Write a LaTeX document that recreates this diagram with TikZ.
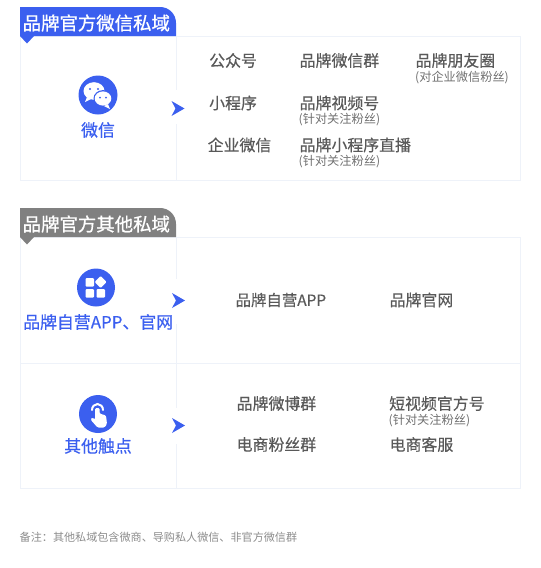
\documentclass[tikz,border=0pt]{standalone}
\usepackage{fontspec}
\setmainfont{Noto Sans CJK SC}
\newfontfamily\medf[FakeBold=0.4]{Noto Sans CJK SC}
\newfontfamily\boldf[FakeBold=0.8]{Noto Sans CJK SC}
\definecolor{brand}{HTML}{3B5FEF}
\definecolor{tabgray}{HTML}{808080}
\definecolor{edge}{HTML}{EEF2F9}
\definecolor{ink}{HTML}{595959}
\definecolor{subink}{HTML}{707070}
\definecolor{note}{HTML}{8C8C8C}
\tikzset{
  frame/.style={draw=edge,line width=1pt},
  tabtitle/.style={text=white,inner sep=0pt,font=\boldf\fontsize{18.4}{19}\selectfont},
  item/.style={text=ink,inner sep=0pt,font=\medf\fontsize{15.9}{16}\selectfont},
  itemlat/.style={text=ink,inner sep=0pt,font=\medf\fontsize{15.4}{16}\selectfont},
  sub/.style={text=subink,inner sep=0pt,font=\fontsize{12.2}{13}\selectfont},
  captext/.style={text=brand,inner sep=0pt,font=\medf\fontsize{16.9}{17}\selectfont},
  disc/.style={circle,fill=brand,minimum size=38pt,inner sep=0pt},
  gap/.style={fill=white,draw=none},
  arrowmark/.style={fill=brand,draw=none},
}
\begin{document}
\begin{tikzpicture}[x=1pt,y=-1pt]
\useasboundingbox (0,0) rectangle (541,568);
% frames
\draw[frame] (20.5,36.5) rectangle (520.5,180);
\draw[frame] (176,36.5) -- (176,180);
\draw[frame] (20.5,237.5) rectangle (520.5,488);
\draw[frame] (176,237.5) -- (176,488);
\draw[frame] (20.5,363) -- (520.5,363);
% tabs
\fill[brand] (20,7) -- (160,7) .. controls (169,7) and (176,14) .. (176,23) -- (176,36) -- (34,36) -- (27,43.5) -- (20,36) -- cycle;
\fill[tabgray] (20,208) -- (160,208) .. controls (169,208) and (176,215) .. (176,224) -- (176,237) -- (34,237) -- (27,244.5) -- (20,237) -- cycle;
\node[tabtitle,anchor=west] (t1) at (22.5,23) {品牌官方微信私域};
\node[tabtitle,anchor=west] (t2) at (22.5,224) {品牌官方其他私域};
% arrow marks
\fill[gap] (170,90) rectangle (182,124);
\fill[gap] (170,279) rectangle (182,324);
\fill[gap] (170,408) rectangle (182,444);
\fill[arrowmark] (171.5,101) -- (184.5,108.5) -- (171.5,116) -- (175.5,108.5) -- cycle;
\fill[arrowmark] (172,293) -- (185,300.5) -- (172,308) -- (176,300.5) -- cycle;
\fill[arrowmark] (172,418) -- (185,425.5) -- (172,433) -- (176,425.5) -- cycle;
% discs
\node[disc,minimum size=39pt] (d1) at (98,95) {};
\node[disc] (d2) at (96,287.5) {};
\node[disc] (d3) at (98,414) {};
% wechat glyph
\fill[white] (94,91) ellipse[x radius=10.5,y radius=8.8];
\fill[white] (87,97) -- (85,102) -- (91,99) -- cycle;
\fill[brand] (103,98.5) ellipse[x radius=9.5,y radius=8.4];
\fill[white] (103,98.5) ellipse[x radius=8.3,y radius=7.1];
\fill[white] (108,104) -- (110,109) -- (104,106) -- cycle;
\fill[brand] (90,89) circle[radius=1.1] (98,89) circle[radius=1.1] (100,97.5) circle[radius=1] (106,97.5) circle[radius=1];
% app glyph
\fill[white,rounded corners=1pt] (85.5,278) rectangle (94,286.5);
\fill[white,rounded corners=1pt] (85.5,289) rectangle (94,297.5);
\fill[white,rounded corners=1pt] (96.5,289) rectangle (105,297.5);
\fill[white,rounded corners=1pt] (100.7,276) -- (106.7,282) -- (100.7,288) -- (94.7,282) -- cycle;
% touch glyph
\draw[white,line width=2pt,line cap=round] (92,410) .. controls (92,406.5) and (94.5,404) .. (97.5,404) .. controls (100.5,404) and (103,406.5) .. (103,410);
\fill[white,rounded corners=1.2pt] (95.2,408) -- (99.5,408) -- (99.5,413.5) -- (106,415.5) -- (107,424) -- (104.5,427.5) -- (97.5,427.5) -- (90.5,419.5) -- (92,417.5) -- (95.2,419.5) -- cycle;
% captions
\node[captext] (c1) at (98,130) {微信};
\node[captext,anchor=west] (c2) at (23,322) {品牌自营APP、官网};
\node[captext] (c3) at (98,446) {其他触点};
% items
\node[item,anchor=west] (i1) at (209,60.5) {公众号};
\node[item,anchor=west] (i2) at (299.5,60.5) {品牌微信群};
\node[item,anchor=west] (i3) at (415.5,60.5) {品牌朋友圈};
\node[sub,anchor=west] (s3) at (415,77.5) {(对企业微信粉丝)};
\node[item,anchor=west] (i4) at (209,103) {小程序};
\node[item,anchor=west] (i5) at (299.5,103) {品牌视频号};
\node[sub,anchor=west] (s5) at (298.5,120) {(针对关注粉丝)};
\node[item,anchor=west] (i6) at (207.5,145) {企业微信};
\node[item,anchor=west] (i7) at (299.5,145) {品牌小程序直播};
\node[sub,anchor=west] (s7) at (298.5,162) {(针对关注粉丝)};
\node[itemlat,anchor=west] (i8) at (235.5,300) {品牌自营APP};
\node[item,anchor=west] (i9) at (389.5,300) {品牌官网};
\node[item,anchor=west] (i10) at (236.5,403.5) {品牌微博群};
\node[item,anchor=west] (i11) at (389,403.5) {短视频官方号};
\node[sub,anchor=west] (s11) at (388.5,421) {(针对关注粉丝)};
\node[item,anchor=west] (i12) at (236.5,444.5) {电商粉丝群};
\node[item,anchor=west] (i13) at (389.5,444.5) {电商客服};
\node[anchor=west,inner sep=0pt,text=note,font=\fontsize{11.1}{12}\selectfont] (n) at (19.5,537) {备注：其他私域包含微商、导购私人微信、非官方微信群};
\end{tikzpicture}
\end{document}
